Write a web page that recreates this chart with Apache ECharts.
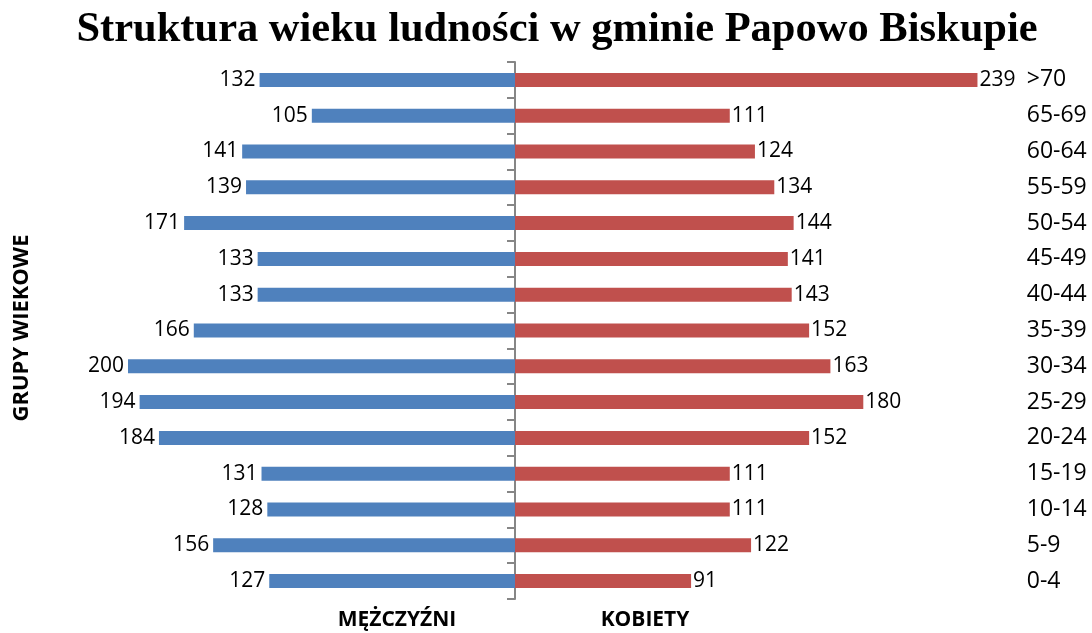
<!DOCTYPE html>
<html>
<head>
<meta charset="utf-8">
<script src="https://cdn.jsdelivr.net/npm/echarts@6/dist/echarts.min.js"></script>
<style>
  html, body { margin: 0; padding: 0; background: #fff; }
  #chart { width: 1092px; height: 633px; }
</style>
</head>
<body>
<div id="chart"></div>
<script>
// bottom to top
const ageGroups = ['0-4', '5-9', '10-14', '15-19', '20-24', '25-29', '30-34', '35-39', '40-44', '45-49', '50-54', '55-59', '60-64', '65-69', '>70']
const men = [127, 156, 128, 131, 184, 194, 200, 166, 133, 133, 171, 139, 141, 105, 132]
const women = [91, 122, 111, 111, 152, 180, 163, 152, 143, 141, 144, 134, 124, 111, 239]

const chart = echarts.init(document.getElementById('chart'))
const labelFont = { fontFamily: 'Open Sans', fontSize: 21, color: '#000' }
const boldText = { fontFamily: 'Open Sans', fontWeight: 'bold', fontSize: 21, fill: '#000' }

chart.setOption({
  animation: false,
  title: {
    text: 'Struktura wieku ludności w gminie Papowo Biskupie',
    left: 552,
    textAlign: 'center',
    top: 4,
    textStyle: { fontFamily: 'Liberation Serif', fontWeight: 'bold', fontSize: 42.5, color: '#000' }
  },
  grid: { left: 128, top: 62, width: 870.75, height: 537 },
  xAxis: { type: 'value', min: -200, max: 250, show: false },
  yAxis: [{
    type: 'category',
    data: ageGroups,
    axisLine: { onZero: true, lineStyle: { color: '#868686', width: 2 } },
    axisTick: { show: true, interval: 0, length: 8, lineStyle: { color: '#868686', width: 2 } },
    axisLabel: { show: true, color: 'rgba(0,0,0,0)', fontSize: 1 }
  }, {
    type: 'category',
    position: 'right',
    data: ageGroups,
    axisLine: { show: false },
    axisTick: { show: false },
    axisLabel: { margin: 28, ...labelFont, fontSize: 23 }
  }],
  graphic: [
    { type: 'text', x: 22, y: 328, rotation: Math.PI / 2, style: { text: 'GRUPY WIEKOWE', ...boldText, fontSize: 22, align: 'center', verticalAlign: 'middle' } },
    { type: 'text', x: 397, y: 620, style: { text: 'MĘŻCZYŹNI', ...boldText, align: 'center', verticalAlign: 'middle' } },
    { type: 'text', x: 645, y: 620, style: { text: 'KOBIETY', ...boldText, align: 'center', verticalAlign: 'middle' } }
  ],
  series: [{
    name: 'Mężczyźni',
    type: 'bar',
    data: men.map(v => -v),
    barWidth: 14,
    barGap: '-100%',
    itemStyle: { color: '#4F81BD' },
    label: { show: true, position: 'left', distance: 4, formatter: p => Math.abs(p.value), ...labelFont }
  }, {
    name: 'Kobiety',
    type: 'bar',
    data: women,
    barWidth: 14,
    itemStyle: { color: '#C0504D' },
    label: { show: true, position: 'right', distance: 2, ...labelFont }
  }]
})
</script>
</body>
</html>
